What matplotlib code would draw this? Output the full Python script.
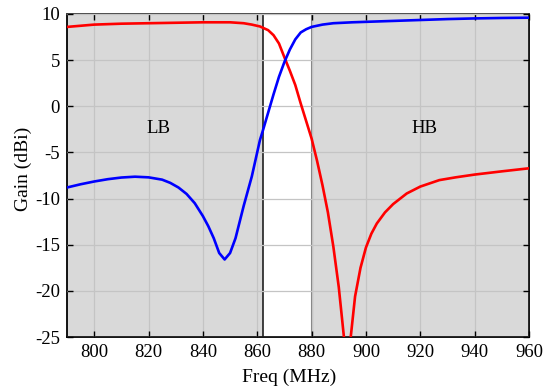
import matplotlib
matplotlib.use("Agg")
import matplotlib.pyplot as plt

# Frequency sweep (MHz) and gain (dBi) for the two ports
freq_blue = [790, 795, 800, 805, 810, 815, 820, 825, 828, 831, 834, 837, 840, 842,
             844, 846, 848, 850, 852, 855, 858, 861, 862, 864, 866, 868, 870, 872,
             874, 876, 878, 880, 884, 888, 895, 900, 910, 920, 930, 940, 950, 960]
gain_blue = [-8.8, -8.45, -8.15, -7.9, -7.72, -7.63, -7.7, -7.95, -8.3, -8.8, -9.5,
             -10.5, -11.9, -13.0, -14.3, -15.9, -16.6, -15.9, -14.3, -10.8, -7.6,
             -3.65, -2.7, -0.7, 1.3, 3.2, 4.8, 6.15, 7.25, 8.0, 8.35, 8.6, 8.85,
             9.0, 9.1, 9.15, 9.25, 9.35, 9.45, 9.52, 9.57, 9.6]

freq_red = [790, 800, 810, 820, 830, 840, 850, 855, 858, 861, 864, 866, 868, 870,
            872, 874, 876, 878, 880, 882, 884, 886, 888, 890, 892, 893, 894.4, 896,
            898, 900, 902, 904, 907, 910, 915, 920, 927, 933, 940, 950, 960]
gain_red = [8.6, 8.85, 8.95, 9.0, 9.05, 9.1, 9.1, 9.0, 8.85, 8.65, 8.25, 7.7, 6.8,
            5.3, 3.85, 2.3, 0.3, -1.6, -3.5, -5.9, -8.55, -11.5, -15.2, -19.6,
            -25.3, -28.0, -25.0, -20.6, -17.5, -15.3, -13.8, -12.7, -11.5, -10.6,
            -9.45, -8.7, -8.0, -7.7, -7.4, -7.05, -6.72]

# Operating bands
lb_band = (790, 862)
hb_band = (880, 960)
band_labels = ["LB", "HB"]
band_label_pos = [(823.5, -2.4), (921.5, -2.4)]

xticks = [800, 820, 840, 860, 880, 900, 920, 940, 960]
yticks = [10, 5, 0, -5, -10, -15, -20, -25]

plt.rcParams["font.family"] = ["Liberation Serif", "DejaVu Serif"]
plt.rcParams["font.size"] = 13
plt.rcParams["axes.unicode_minus"] = False

fig = plt.figure(figsize=(5.53, 3.92), dpi=100)
ax = fig.add_axes([0.1212, 0.1403, 0.8354, 0.824])

ax.axvspan(*lb_band, color="#d9d9d9", zorder=0, lw=0)
ax.axvspan(*hb_band, color="#d9d9d9", zorder=0, lw=0)
ax.axvline(lb_band[1], color="#202020", lw=1.2, zorder=1)
ax.axvline(hb_band[0], color="#808080", lw=1.5, zorder=1)

ax.grid(True, color="#c4c4c4", lw=0.9, zorder=0.5)
ax.set_axisbelow(False)

ax.plot(freq_red, gain_red, color="red", lw=1.9, zorder=3)
ax.plot(freq_blue, gain_blue, color="blue", lw=1.9, zorder=3)

for lab, (x, y) in zip(band_labels, band_label_pos):
    ax.text(x, y, lab, ha="center", va="center", fontsize=13.5, zorder=4)

ax.set_xlim(790, 960)
ax.set_ylim(-25, 10)
ax.set_xticks(xticks)
ax.set_yticks(yticks)
ax.tick_params(direction="in", top=True, right=True, length=4, width=1,
               labelsize=13.5, pad=5)
ax.set_xlabel("Freq (MHz)", fontsize=14)
ax.set_ylabel("Gain (dBi)", fontsize=14)
ax.xaxis.set_label_coords(0.48, -0.099)
ax.yaxis.set_label_coords(-0.076, 0.52)

for side in ["left", "bottom", "right"]:
    ax.spines[side].set_color("black")
    ax.spines[side].set_linewidth(1.3)
ax.spines["top"].set_color("#404040")
ax.spines["top"].set_linewidth(1.3)

fig.savefig("out.png", dpi=100)
